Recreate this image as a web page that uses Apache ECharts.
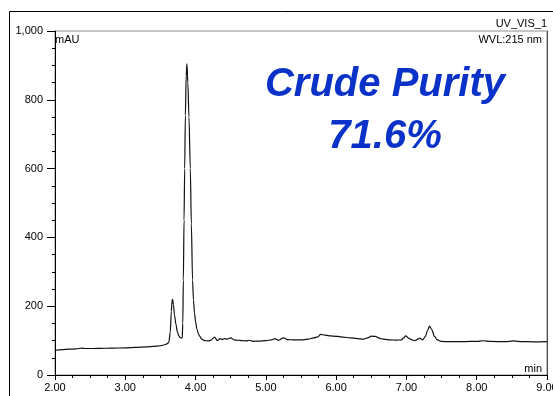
<!DOCTYPE html>
<html>
<head>
<meta charset="utf-8">
<script src="https://cdn.jsdelivr.net/npm/echarts@6/dist/echarts.min.js"></script>
<style>
  html, body { margin: 0; padding: 0; background: #fff; }
  #chart { width: 553px; height: 396px; }
</style>
</head>
<body>
<div id="chart"></div>
<script>
// UV chromatogram (215 nm): retention time in minutes vs absorbance in mAU
const retentionTime = [
  2.00, 2.10, 2.20, 2.30, 2.38, 2.44, 2.55, 2.65, 2.80, 3.00,
  3.15, 3.30, 3.40, 3.50, 3.56, 3.60, 3.62, 3.64, 3.655, 3.665,
  3.673, 3.685, 3.70, 3.72, 3.74, 3.76, 3.78, 3.80, 3.81, 3.818,
  3.826, 3.836, 3.845, 3.855, 3.866, 3.877, 3.890, 3.906, 3.925, 3.94,
  3.957, 3.97, 3.985, 4.00, 4.02, 4.04, 4.06, 4.09, 4.13, 4.18,
  4.22, 4.27, 4.31, 4.35, 4.38, 4.41, 4.45, 4.50, 4.55, 4.60,
  4.66, 4.72, 4.76, 4.82, 4.90, 5.00, 5.08, 5.13, 5.18, 5.25,
  5.31, 5.40, 5.50, 5.60, 5.68, 5.74, 5.78, 5.84, 5.90, 5.96,
  6.03, 6.10, 6.20, 6.30, 6.39, 6.45, 6.50, 6.56, 6.61, 6.68,
  6.77, 6.85, 6.93, 6.96, 6.99, 7.03, 7.08, 7.12, 7.16, 7.19,
  7.23, 7.27, 7.30, 7.33, 7.36, 7.40, 7.44, 7.50, 7.60, 7.80,
  8.00, 8.09, 8.20, 8.40, 8.52, 8.65, 8.80, 9.00
];
const absorbance = [
  72, 73.5, 75, 76, 78, 77, 77, 77.5, 78, 79,
  80.5, 82, 83, 85, 88, 91, 96, 125, 185, 215,
  220, 205, 175, 148, 126, 114, 109, 107, 108, 150,
  276, 450, 600, 755, 870, 905, 850, 750, 600, 440,
  276, 218, 180, 155, 133, 120, 112, 104, 100, 99,
  101, 110, 100, 106, 103, 106, 104, 108, 102, 101,
  100, 99, 101, 98, 98.5, 100, 102, 106, 101, 108,
  103, 102, 102, 104, 108, 111, 118, 116, 114, 113,
  112, 110, 108, 106, 104, 108, 113, 112, 107, 104,
  102, 101.5, 102, 108, 114, 107, 102, 100, 104, 107,
  102, 112, 130, 142, 132, 112, 102, 97.5, 97, 97,
  98, 99.5, 97.5, 97, 99, 97, 96.5, 97
];

// Axis ranges and tick spacing
const timeRange = [2, 9];
const timeStep = 1;
const mauRange = [0, 1000];
const mauStep = 200;

// Annotation text
const channelName = 'UV_VIS_1';
const wavelengthText = 'WVL:215 nm';
const yUnit = 'mAU';
const xUnit = 'min';
const headline = 'Crude Purity';
const purityText = '71.6%';

const FONT = '"Liberation Sans", Arial, Helvetica, sans-serif';

const chart = echarts.init(document.getElementById('chart'), null, { renderer: 'canvas' });

const points = retentionTime.map((t, i) => [t, absorbance[i]]);

chart.setOption({
  animation: false,
  backgroundColor: '#fff',
  grid: {
    left: 55, right: 6, top: 31, bottom: 21,
    containLabel: false,
    outerBoundsMode: 'none',
    show: true,
    borderColor: '#8c8c8c',
    borderWidth: 1,
    backgroundColor: 'transparent'
  },
  xAxis: {
    type: 'value',
    min: timeRange[0], max: timeRange[1], interval: timeStep,
    axisLine: { show: true, onZero: false, lineStyle: { color: '#000', width: 1 } },
    axisTick: { show: true, length: 5, lineStyle: { color: '#000' } },
    minorTick: { show: true, splitNumber: 4, length: 3, lineStyle: { color: '#000' } },
    splitLine: { show: false },
    axisLabel: {
      color: '#000', fontSize: 11, fontFamily: FONT, margin: 7,
      showMaxLabel: true, showMinLabel: true,
      formatter: v => v.toFixed(2)
    }
  },
  yAxis: [{
    type: 'value',
    min: mauRange[0], max: mauRange[1], interval: mauStep,
    axisLine: { show: true, onZero: false, lineStyle: { color: '#000', width: 1 } },
    axisTick: { show: true, length: 8, lineStyle: { color: '#000' } },
    minorTick: { show: true, splitNumber: 4, length: 3, lineStyle: { color: '#000' } },
    splitLine: { show: false },
    axisLabel: {
      color: '#000', fontSize: 11, fontFamily: FONT, margin: 12,
      formatter: v => v.toLocaleString('en-US')
    }
  }, {
    type: 'value', position: 'right',
    min: mauRange[0], max: mauRange[1], interval: mauStep,
    axisLine: { show: true, onZero: false, lineStyle: { color: '#4a4a4a', width: 1 } },
    axisTick: { show: false }, axisLabel: { show: false }, splitLine: { show: false }
  }],
  series: [{
    type: 'line',
    data: points,
    showSymbol: false,
    smooth: 0.3,
    smoothMonotone: 'x',
    lineStyle: { color: '#111', width: 1.2 },
    silent: true
  }],
  graphic: [
    { type: 'rect', shape: { x: 9.5, y: 11.5, width: 700, height: 500 },
      style: { fill: null, stroke: '#000', lineWidth: 1 }, silent: true },
    { type: 'text', x: 547, y: 24, style: { text: channelName, font: '11px ' + FONT, fill: '#000', align: 'right', verticalAlign: 'middle' } },
    { type: 'text', x: 542, y: 40, style: { text: wavelengthText, font: '11px ' + FONT, fill: '#000', align: 'right', verticalAlign: 'middle' } },
    { type: 'text', x: 55, y: 40, style: { text: yUnit, font: '11px ' + FONT, fill: '#000', align: 'left', verticalAlign: 'middle' } },
    { type: 'text', x: 542, y: 369, style: { text: xUnit, font: '11px ' + FONT, fill: '#000', align: 'right', verticalAlign: 'middle' } },
    { type: 'text', x: 385, y: 85, style: { text: headline, font: 'italic bold 40px ' + FONT, fill: '#0a32c8', align: 'center', verticalAlign: 'middle' } },
    { type: 'text', x: 385, y: 137, style: { text: purityText, font: 'italic bold 40px ' + FONT, fill: '#0a32c8', align: 'center', verticalAlign: 'middle' } }
  ]
});
</script>
</body>
</html>
